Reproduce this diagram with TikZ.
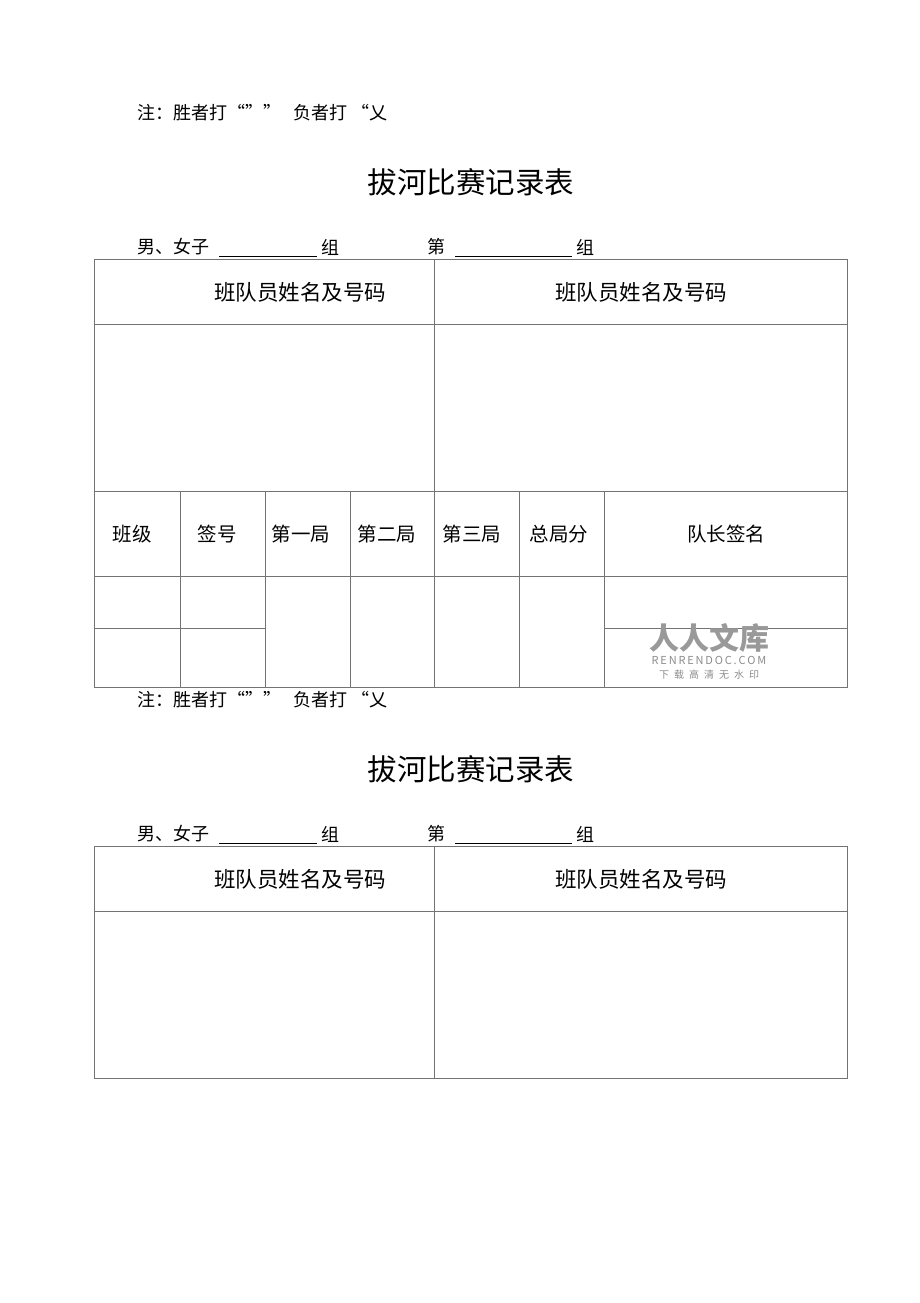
\documentclass[tikz,border=0pt]{standalone}
\usepackage{fontspec}
\setmainfont{Noto Sans CJK SC}
\begin{document}
\begin{tikzpicture}[x=1pt,y=-1pt,
  ln/.style={draw=black!55,line width=0.8pt},
  txt/.style={font=\fontsize{18}{20}\selectfont,inner sep=0pt},
  ctxt/.style={font=\fontsize{19.5}{21}\selectfont,inner sep=0pt},
  htxt/.style={font=\fontsize{21.5}{24}\selectfont,inner sep=0pt},
  ttl/.style={font=\fontsize{29.5}{32}\selectfont,inner sep=0pt}]
\useasboundingbox[fill=white] (0,0) rectangle (920,1303);
\foreach \o/\k in {0/a,587/b}{
  \node[txt,anchor=west] (note\k) at (137,113+\o) {注：胜者打“"”\ \ \ 负者打 “乂};
  \node[ttl] (title\k) at (471,182+\o) {拔河比赛记录表};
  \node[txt,anchor=west] (g\k) at (137,247+\o) {男、女子};
  \node[txt,anchor=west] (z\k) at (321,247+\o) {组};
  \node[txt,anchor=west] (d\k) at (427,247+\o) {第};
  \node[txt,anchor=west] (y\k) at (576,247+\o) {组};
  \draw[black,line width=0.6pt] (219,256+\o) -- (317,256+\o);
  \draw[black,line width=0.6pt] (455,256+\o) -- (572,256+\o);
  \draw[ln] (94,259+\o) rectangle (847,\o+491);
  \draw[ln] (94,324+\o) -- (847,324+\o);
  \draw[ln] (434,259+\o) -- (434,491+\o);
  \node[htxt] (h1\k) at (300,292+\o) {班队员姓名及号码};
  \node[htxt] (h2\k) at (641,292+\o) {班队员姓名及号码};
}
\draw[ln] (94,491) rectangle (847,687);
\draw[ln] (94,576) -- (847,576);
\foreach \xx in {180,265,350,434,519,604} \draw[ln] (\xx,491) -- (\xx,687);
\draw[ln] (94,628) -- (265,628);
\draw[ln] (604,628) -- (847,628);
\node[ctxt] (c1) at (132,534) {班级};
\node[ctxt] (c2) at (217,534) {签号};
\node[ctxt] (c3) at (301,534) {第一局};
\node[ctxt] (c4) at (387,534) {第二局};
\node[ctxt] (c5) at (472,534) {第三局};
\node[ctxt] (c6) at (559,534) {总局分};
\node[ctxt] (c7) at (726,534) {队长签名};
\node[inner sep=0pt,text=black!40,font=\fontsize{30}{32}\selectfont\bfseries] (wm1) at (709,638) {人人文库};
\node[inner sep=0pt,text=black!45,font=\fontsize{11}{12}\selectfont,text width=125pt,align=center] (wm2) at (709,660) {R\,E\,N\,R\,E\,N\,D\,O\,C\,.\,C\,O\,M};
\node[inner sep=0pt,text=black!45,font=\fontsize{10}{12}\selectfont] (wm3) at (709,675) {下\hspace{5pt}载\hspace{5pt}高\hspace{5pt}清\hspace{5pt}无\hspace{5pt}水\hspace{5pt}印};
\end{tikzpicture}
\end{document}
